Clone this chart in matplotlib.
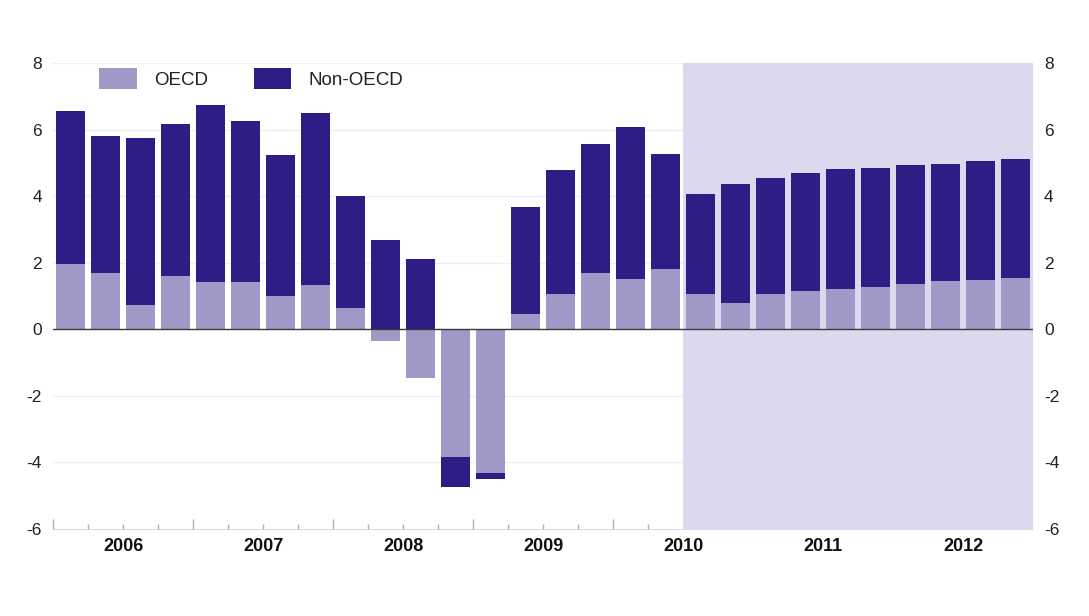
import numpy as np
import matplotlib
matplotlib.use("Agg")
import matplotlib.pyplot as plt
import matplotlib.transforms as mtransforms

plt.rcParams["font.family"] = ["Liberation Sans", "DejaVu Sans"]

# quarterly contributions, 2006 Q1 .. 2012 Q4
years = ["2006", "2007", "2008", "2009", "2010", "2011", "2012"]
oecd = [1.95, 1.69, 0.73, 1.60, 1.41, 1.42, 1.00, 1.32,
        0.64, -0.35, -1.45, -3.84, -4.32, 0.45, 1.05, 1.70,
        1.51, 1.81, 1.06, 0.80, 1.05, 1.14, 1.21, 1.27,
        1.37, 1.44, 1.49, 1.55]
non_oecd = [4.61, 4.11, 5.03, 4.56, 5.34, 4.85, 4.23, 5.17,
            3.37, 2.67, 2.10, -0.90, -0.19, 3.21, 3.73, 3.86,
            4.56, 3.46, 3.00, 3.56, 3.50, 3.56, 3.60, 3.58,
            3.56, 3.54, 3.56, 3.57]
shade_from = 18  # first quarter of the shaded (projection) period

OECD_COL = "#a298c8"
NON_COL = "#2d1d84"
SHADE_COL = "#dcd8ee"
GRID_COL = "#efedf7"

oecd = np.array(oecd)
non_oecd = np.array(non_oecd)
x = np.arange(len(oecd))
# stack positives on positives, negatives on negatives
non_bottom = np.where(np.sign(non_oecd) == np.sign(oecd), oecd, 0)

fig = plt.figure(figsize=(10.89, 6.16), dpi=100)
ax = fig.add_axes([53 / 1089, 1 - 529 / 616, 980 / 1089, 466 / 616])

ax.set_xlim(-0.5, len(x) - 0.5)
ax.set_ylim(-6, 8)

# grid
for g in [-4, -2, 2, 4, 6, 8]:
    ax.axhline(g, color=GRID_COL, lw=1, zorder=0)

# projection shading
ax.axvspan(shade_from - 0.5, len(x) - 0.5, color=SHADE_COL, lw=0, zorder=1)

w = 0.84
ax.bar(x, oecd, width=w, color=OECD_COL, label="OECD", zorder=2)
ax.bar(x, non_oecd, width=w, bottom=non_bottom, color=NON_COL,
       label="Non-OECD", zorder=2)

ax.axhline(0, color="#3a3a3a", lw=1, zorder=3)

# spines
for s in ["top", "left", "right"]:
    ax.spines[s].set_visible(False)
ax.spines["bottom"].set_color(SHADE_COL)
ax.spines["bottom"].set_zorder(0.5)

# y ticks on both sides
ax.set_yticks(np.arange(-6, 9, 2))
ax.set_yticklabels([str(v) for v in range(-6, 9, 2)])
ax.tick_params(axis="y", length=0, labelsize=12.5, labelcolor="#222222",
               left=False, right=False, labelleft=True, labelright=True,
               pad=8)

# quarter boundary ticks (stop where shading begins)
bounds = np.arange(0, shade_from) - 0.5
ax.set_xticks(bounds[::4])
ax.set_xticks(bounds, minor=True)
ax.set_xticklabels([])
ax.tick_params(axis="x", which="major", direction="in", length=7,
               color="#b0b0b0", width=1)
ax.tick_params(axis="x", which="minor", direction="in", length=3.5,
               color="#b0b0b0", width=1)

# year labels centred under each year
trans = mtransforms.blended_transform_factory(ax.transData, ax.transAxes)
for i, yr in enumerate(years):
    ax.text(i * 4 + 1.5, -0.02, yr, transform=trans, ha="center",
            va="top", fontsize=13, fontweight="bold", color="#111111")

leg = ax.legend(loc="upper left", bbox_to_anchor=(0.03, 1.026), ncol=2,
                frameon=False, fontsize=13.5, handlelength=2.0,
                handleheight=1.4, columnspacing=2.4, handletextpad=0.95)
for t in leg.get_texts():
    t.set_color("#222222")

fig.savefig("out.png", dpi=100)
